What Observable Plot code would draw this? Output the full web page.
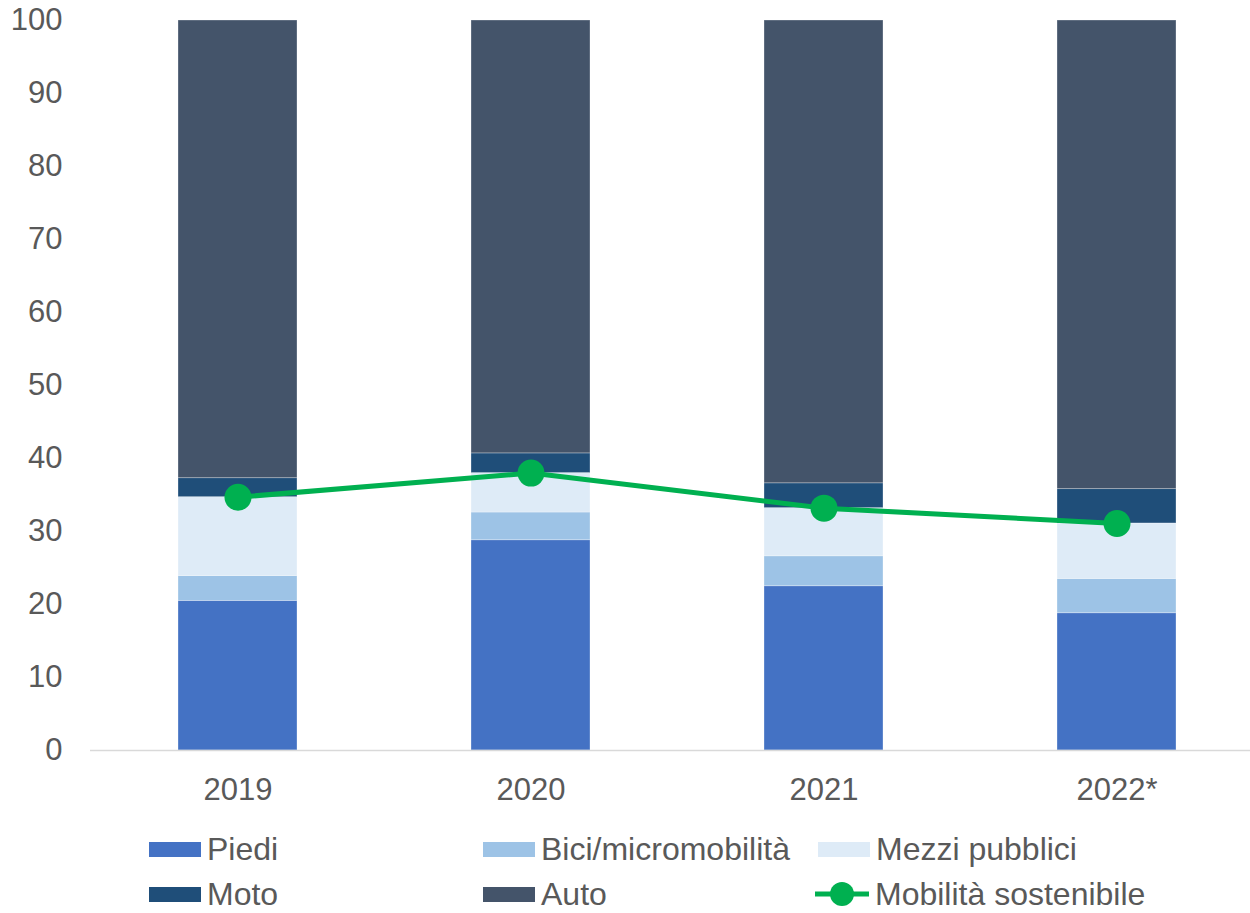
<!DOCTYPE html>
<html>
<head>
<meta charset="utf-8">
<script src="https://cdn.jsdelivr.net/npm/d3@7"></script>
<script src="https://cdn.jsdelivr.net/npm/@observablehq/plot@0.6"></script>
<style>
  body { margin: 0; background: #fff; font-family: "Liberation Sans", Arial, sans-serif; }
  #wrap { position: relative; width: 1250px; height: 913px; overflow: hidden; }
  #legend { position: absolute; left: 0; top: 815px; width: 1250px; height: 98px; }
  .item { position: absolute; display: flex; align-items: center; font-size: 32px; line-height: 30px; color: #595959; white-space: nowrap; }
  .sw { width: 52px; height: 15px; margin-right: 6px; }
</style>
</head>
<body>
<div id="wrap">
  <div id="chart"></div>
  <div id="legend"></div>
</div>
<script>
const years = ["2019", "2020", "2021", "2022*"];
const seriesNames = ["Piedi", "Bici/micromobilità", "Mezzi pubblici", "Moto", "Auto"];
const seriesColors = ["#4472C4", "#9DC3E6", "#DEEBF7", "#1F4E79", "#44546A"];
const piedi = [20.5, 28.8, 22.5, 18.8];
const bici = [3.4, 3.8, 4.1, 4.7];
const mezzi = [10.8, 5.4, 6.6, 7.6];
const moto = [2.6, 2.7, 3.4, 4.7];
const auto = [62.7, 59.3, 63.4, 64.2];
const sostenibile = [34.7, 38.0, 33.2, 31.1];
const yTicks = [0, 10, 20, 30, 40, 50, 60, 70, 80, 90, 100];

const seriesValues = [piedi, bici, mezzi, moto, auto];
const rows = [];
years.forEach((yr, i) => {
  seriesNames.forEach((s, j) => rows.push({year: yr, series: s, value: seriesValues[j][i]}));
});
const lineRows = years.map((yr, i) => ({year: yr, value: sostenibile[i]}));

const chart = Plot.plot({
  width: 1250,
  height: 815,
  marginTop: 20,
  marginBottom: 65,
  marginLeft: 90,
  marginRight: 0,
  style: {fontFamily: "'Liberation Sans', Arial, sans-serif", fontSize: "31px", color: "#595959", background: "white"},
  x: {domain: years, range: [90, 1263], paddingInner: 0.595, paddingOuter: 0.2975, label: null},
  y: {domain: [0, 100], label: null},
  color: {domain: seriesNames, range: seriesColors},
  marks: [
    Plot.barY(rows, {x: "year", y: "value", fill: "series", stroke: "white", strokeOpacity: 0.4, strokeWidth: 0.75}),
    Plot.ruleY([0], {stroke: "#d9d9d9", strokeWidth: 1.3}),
    Plot.axisY({ticks: yTicks, tickSize: 0, tickPadding: 28, fill: "#595959", fontSize: 31}),
    Plot.axisX({tickSize: 0, tickPadding: 27, fill: "#595959", fontSize: 31}),
    Plot.line(lineRows, {x: "year", y: "value", stroke: "#00B050", strokeWidth: 5}),
    Plot.dot(lineRows, {x: "year", y: "value", r: 13.5, fill: "#00B050"})
  ]
});
document.getElementById("chart").appendChild(chart);

const legend = document.getElementById("legend");
const pos = [
  {x: 149, y: 34}, {x: 483, y: 34}, {x: 818, y: 34},
  {x: 149, y: 79}, {x: 483, y: 79}
];
seriesNames.forEach((s, i) => {
  const it = document.createElement("div");
  it.className = "item";
  it.style.left = pos[i].x + "px";
  it.style.top = (pos[i].y - 15) + "px";
  it.style.height = "30px";
  const sw = document.createElement("div");
  sw.className = "sw";
  sw.style.background = seriesColors[i];
  it.appendChild(sw);
  it.appendChild(document.createTextNode(s));
  legend.appendChild(it);
});
const li = document.createElement("div");
li.className = "item";
li.style.left = "815px";
li.style.top = (79 - 15) + "px";
li.style.height = "30px";
li.innerHTML = '<svg width="54" height="30" style="margin-right:6px"><line x1="0" y1="15" x2="54" y2="15" stroke="#00B050" stroke-width="5"/><circle cx="27" cy="15" r="12" fill="#00B050"/></svg>Mobilità sostenibile';
legend.appendChild(li);
</script>
</body>
</html>
